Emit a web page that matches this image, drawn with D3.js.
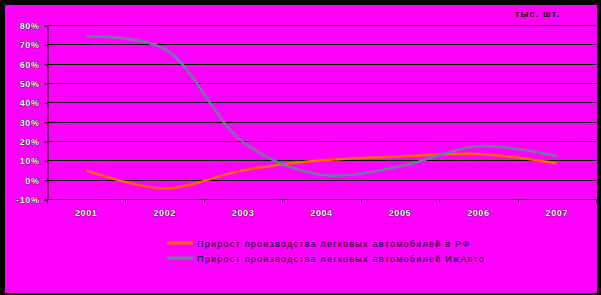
<!DOCTYPE html>
<html>
<head>
<meta charset="utf-8">
<script src="https://cdn.jsdelivr.net/npm/d3@7"></script>
<style>
  html, body { margin: 0; padding: 0; background: #000; }
  svg { display: block; }
  .lbl { font-family: "Liberation Sans", Arial, sans-serif; font-weight: bold; font-size: 9px;
         fill: #fff; stroke: #000; stroke-width: 0.7px; paint-order: stroke; letter-spacing: 0.6px; }
  .leg { font-family: "Liberation Sans", Arial, sans-serif; font-size: 9px; fill: #000; letter-spacing: 1.25px; }
</style>
</head>
<body>
<div id="chart"></div>
<script>
const years = ['2001', '2002', '2003', '2004', '2005', '2006', '2007'];
const rfGrowth = [4.8, -4.5, 4.8, 10, 12, 13.3, 8.5];
const izhGrowth = [74, 67.5, 19.5, 2.6, 6.9, 17.3, 12.2];
const yTicks = [-10, 0, 10, 20, 30, 40, 50, 60, 70, 80];
const seriesNames = ['Прирост производства легковых автомобилей в РФ', 'Прирост производства легковых автомобилей ИжАвто'];
const seriesColors = ['#ff6a00', '#6c7c9c'];

const width = 601, height = 295;
const margin = { top: 25, right: 5, bottom: 96, left: 47 };

const svg = d3.select('#chart').append('svg')
  .attr('width', width)
  .attr('height', height);

// frame
svg.append('rect').attr('width', width).attr('height', height).attr('fill', '#000');
svg.append('rect').attr('x', 5).attr('y', 5).attr('width', 592).attr('height', 288).attr('fill', '#ff00ff');

const x = d3.scaleBand().domain(years).range([margin.left, width - margin.right]);
const y = d3.scaleLinear().domain([-10, 80]).range([height - margin.bottom, margin.top]);

// grid lines
svg.append('g')
  .selectAll('line')
  .data(yTicks)
  .enter()
  .append('line')
  .attr('x1', margin.left).attr('x2', width - margin.right)
  .attr('y1', d => Math.round(y(d)) + 0.5).attr('y2', d => Math.round(y(d)) + 0.5)
  .attr('stroke', '#000').attr('stroke-width', 1);

// y axis
const yAxis = svg.append('g')
  .attr('transform', 'translate(' + (margin.left + 0.5) + ',0.5)')
  .call(d3.axisLeft(y).tickValues(yTicks).tickSize(3).tickPadding(5).tickFormat(d => d + '%'));
yAxis.select('.domain').attr('stroke', '#000');
yAxis.selectAll('.tick line').attr('stroke', '#000');
yAxis.selectAll('text').attr('class', 'lbl').attr('dy', '0.35em');

// x axis
const xAxis = svg.append('g')
  .attr('transform', 'translate(0,' + (Math.round(y(-10)) + 0.5) + ')')
  .call(d3.axisBottom(x).tickSize(0).tickPadding(10));
xAxis.select('.domain').remove();
xAxis.selectAll('text').attr('class', 'lbl');
xAxis.append('g')
  .selectAll('line')
  .data(years.concat(['end']))
  .enter()
  .append('line')
  .attr('x1', (d, i) => Math.round(i < years.length ? x(d) : x.range()[1]) + 0.5)
  .attr('x2', (d, i) => Math.round(i < years.length ? x(d) : x.range()[1]) + 0.5)
  .attr('y1', 0).attr('y2', 3)
  .attr('stroke', '#000');

// lines
const line = d3.line()
  .x((d, i) => x(years[i]) + x.bandwidth() / 2)
  .y(d => y(d))
  .curve(d3.curveCatmullRom.alpha(0.5));

[rfGrowth, izhGrowth].forEach((s, i) => {
  svg.append('path')
    .datum(s)
    .attr('d', line)
    .attr('fill', 'none')
    .attr('stroke', seriesColors[i])
    .attr('stroke-width', 2.5);
});

// unit label
svg.append('text')
  .attr('x', 515).attr('y', 17)
  .attr('class', 'leg')
  .style('font-weight', 'bold')
  .style('letter-spacing', '1.2px')
  .text('тыс. шт.');

// legend
const legend = svg.append('g').attr('transform', 'translate(167,243)');
seriesNames.forEach((name, i) => {
  const g = legend.append('g').attr('transform', 'translate(0,' + (i * 15) + ')');
  g.append('line').attr('x1', 0).attr('x2', 26).attr('y1', 0).attr('y2', 0)
    .attr('stroke', seriesColors[i]).attr('stroke-width', 3);
  g.append('text').attr('x', 30).attr('y', 3.5).attr('class', 'leg').text(name);
});
</script>
</body>
</html>
